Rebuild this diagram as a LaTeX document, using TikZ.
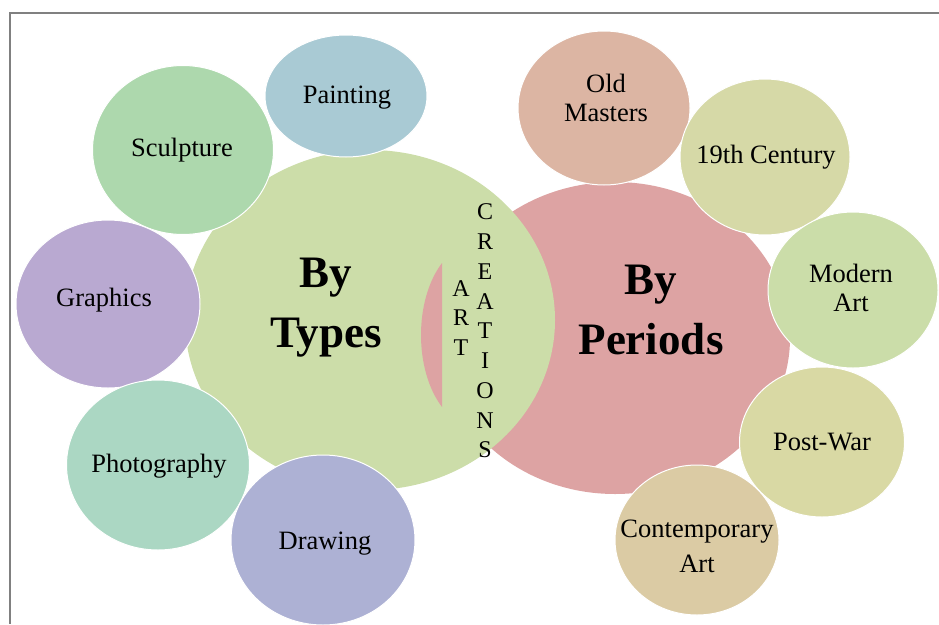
\documentclass[tikz,border=0pt]{standalone}
\usepackage{fontspec}
\setmainfont{Liberation Serif}
\usetikzlibrary{shapes.geometric}
\definecolor{typesgreen}{HTML}{CCDDA9}
\definecolor{periodpink}{HTML}{DDA3A3}
\definecolor{paintblue}{HTML}{A9CAD4}
\definecolor{sculpgreen}{HTML}{ADD8AD}
\definecolor{graphlilac}{HTML}{B9A9D1}
\definecolor{photomint}{HTML}{ABD7C3}
\definecolor{drawblue}{HTML}{ADB1D4}
\definecolor{oldmsalmon}{HTML}{DCB5A3}
\definecolor{ninekhaki}{HTML}{D6D9A7}
\definecolor{modgreen}{HTML}{CBDDA9}
\definecolor{postkhaki}{HTML}{D9D9A4}
\definecolor{contsand}{HTML}{DBCBA4}

\begin{document}
\begin{tikzpicture}[x=1pt,y=-1pt,
    bubble/.style={ellipse,draw=white,line width=1pt,inner sep=0pt},
    lbl/.style={font=\fontsize{26.5}{29}\selectfont,align=center},
    bigtxt/.style={font=\fontsize{45}{60}\selectfont\bfseries,align=center},
    letters/.style={font=\fontsize{24}{29.75}\selectfont,align=center}]
    \useasboundingbox (0,0) rectangle (939,624);
    \draw[gray,line width=2pt] (939,13) -- (10,13) -- (10,624);
    % the two big circles
    \node[ellipse,fill=periodpink,inner sep=0pt,minimum width=350pt,minimum height=312pt] (periods) at (615,338) {};
    \node[ellipse,fill=typesgreen,inner sep=0pt,minimum width=370pt,minimum height=340pt] (types) at (370,320) {};
    \fill[periodpink] (442,263) .. controls (414,300) and (414,370) .. (442,407) -- cycle;
    % by types
    \node[bubble,fill=paintblue,minimum width=162pt,minimum height=122pt] (paint) at (346,96) {};
    \node[bubble,fill=sculpgreen,minimum width=181pt,minimum height=169pt] (sculp) at (183,150) {};
    \node[bubble,fill=graphlilac,minimum width=184pt,minimum height=168pt] (graph) at (108,304) {};
    \node[bubble,fill=photomint,minimum width=183pt,minimum height=170pt] (photo) at (158,465) {};
    \node[bubble,fill=drawblue,minimum width=184pt,minimum height=170pt] (drawg) at (323,540) {};
    % by periods
    \node[bubble,fill=oldmsalmon,minimum width=172pt,minimum height=154pt] (oldm) at (604,108) {};
    \node[bubble,fill=ninekhaki,minimum width=170pt,minimum height=156pt] (nine) at (765,157) {};
    \node[bubble,fill=modgreen,minimum width=170pt,minimum height=156pt] (modern) at (853,290) {};
    \node[bubble,fill=postkhaki,minimum width=165pt,minimum height=150pt] (postwar) at (822,442) {};
    \node[bubble,fill=contsand,minimum width=164pt,minimum height=150pt] (contemp) at (697,540) {};
    % labels
    \node[lbl] (painttxt) at (347,98) {Painting};
    \node[lbl] (sculptxt) at (182,150) {Sculpture};
    \node[lbl] (graphtxt) at (104,300) {Graphics};
    \node[lbl] (phototxt) at (159,466) {Photography};
    \node[lbl] (drawtxt) at (325,544) {Drawing};
    \node[lbl] (oldmtxt) at (606,98) {Old\\Masters};
    \node[lbl] (ninetxt) at (766,157) {19th Century};
    \node[lbl] (moderntxt) at (851,288) {Modern\\Art};
    \node[lbl] (posttxt) at (822,442) {Post-War};
    \node[lbl,font=\fontsize{26.5}{35}\selectfont] (conttxt) at (697,546) {Contemporary\\Art};
    \node[bigtxt] (typestxt) at (326,308) {By\\Types};
    \node[bigtxt] (periodstxt) at (651,310) {By\\Periods};
    \node[letters] (arttxt) at (461,318) {A\\R\\T};
    \node[letters] (creattxt) at (485,331) {C\\R\\E\\A\\T\\I\\O\\N\\S};
\end{tikzpicture}
\end{document}
